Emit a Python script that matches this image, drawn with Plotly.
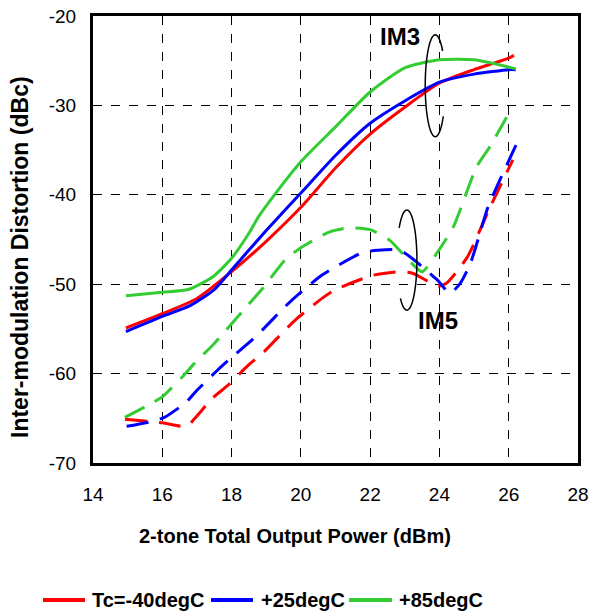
import numpy as np
import plotly.graph_objects as go

# IM3 (solid)
im3_red_x = [14.95, 16.0, 17.0, 18.0, 19.0, 20.0, 21.0, 22.0, 23.0, 24.0, 25.0, 26.0, 26.15]
im3_red_y = [-54.9, -53.3, -51.6, -48.6, -45.2, -41.4, -37.0, -33.2, -30.2, -27.5, -26.0, -24.7, -24.4]
im3_blue_x = [14.95, 16.0, 16.8, 17.5, 18.0, 19.0, 20.0, 21.0, 22.0, 23.0, 24.0, 25.0, 26.0, 26.2]
im3_blue_y = [-55.3, -53.6, -52.4, -50.6, -48.4, -44.0, -39.8, -35.6, -32.0, -29.5, -27.4, -26.5, -26.0, -26.0]
im3_green_x = [14.95, 16.0, 16.75, 17.45, 18.0, 18.5, 18.77, 19.2, 20.0, 21.0, 22.0, 23.0, 24.0, 25.0, 26.2]
im3_green_y = [-51.3, -50.9, -50.6, -49.2, -47.1, -44.3, -42.5, -40.2, -36.3, -32.4, -28.5, -25.8, -24.9, -24.9, -25.9]

# IM5 (dashed)
im5_red_x = [14.92, 16.0, 16.7, 16.94, 17.46, 17.9, 18.47, 18.9, 19.5, 19.9, 20.64, 21.0, 22.08, 22.86, 23.24, 23.96, 24.2, 24.8, 25.46, 26.12]
im5_red_y = [-65.1, -65.5, -65.9, -65.0, -62.7, -61.3, -59.1, -57.7, -55.3, -53.8, -51.5, -50.6, -49.0, -48.6, -48.8, -50.2, -49.9, -47.0, -41.4, -36.1]
im5_blue_x = [14.97, 15.76, 16.06, 16.69, 16.97, 17.6, 17.97, 18.6, 18.97, 19.6, 19.97, 20.6, 21.07, 21.76, 22.2, 22.86, 23.93, 24.3, 24.6, 24.9, 25.4, 25.75, 26.24]
im5_blue_y = [-65.9, -65.3, -64.9, -63.2, -62.0, -59.6, -58.3, -56.2, -54.8, -52.3, -51.0, -49.0, -47.9, -46.5, -46.2, -46.2, -49.5, -51.0, -49.9, -47.6, -41.4, -38.3, -34.2]
im5_green_x = [14.92, 15.7, 16.0, 16.57, 16.94, 17.46, 17.85, 18.48, 18.87, 19.54, 19.97, 20.8, 21.37, 22.0, 22.57, 23.06, 23.5, 23.93, 24.4, 25.07, 25.46, 26.1]
im5_green_y = [-64.9, -63.3, -62.6, -60.4, -58.8, -56.8, -55.1, -52.3, -50.6, -47.3, -46.0, -44.2, -43.7, -43.9, -45.1, -47.1, -48.6, -46.5, -43.6, -36.9, -34.6, -30.2]

legend_names = ["Tc=-40degC", "+25degC", "+85degC"]
colors = ["#ff0000", "#0000ff", "#33cc33"]

x_ticks = [14, 16, 18, 20, 22, 24, 26, 28]
y_ticks = [-20, -30, -40, -50, -60, -70]

FONT = "Arial, 'Liberation Sans', sans-serif"

fig = go.Figure()
im3 = [(im3_red_x, im3_red_y), (im3_blue_x, im3_blue_y), (im3_green_x, im3_green_y)]
im5 = [(im5_red_x, im5_red_y), (im5_blue_x, im5_blue_y), (im5_green_x, im5_green_y)]
for (x, y), name, c in zip(im3, legend_names, colors):
    fig.add_trace(go.Scatter(x=x, y=y, mode="lines", name=name, showlegend=False,
                             line=dict(color=c, width=3, shape="spline", smoothing=0.6)))
for (x, y), name, c in zip(im5, legend_names, colors):
    fig.add_trace(go.Scatter(x=x, y=y, mode="lines", name=name, showlegend=False,
                             line=dict(color=c, width=3, dash="22px,12px", shape="spline", smoothing=0.6)))


def arc_path(cx, cy, rx, ry, a0, a1, n=60):
    t = np.radians(np.linspace(a0, a1, n))
    xs = cx + rx * np.cos(t)
    ys = cy + ry * np.sin(t)
    return "M " + " L ".join(f"{a:.4f},{b:.4f}" for a, b in zip(xs, ys))


fig.add_shape(type="path", xref="x", yref="y",
              path=arc_path(23.88, -27.8, 0.29, 5.7, 43, 323),
              line=dict(color="black", width=1.5))
fig.add_shape(type="path", xref="x", yref="y",
              path=arc_path(23.06, -47.3, 0.29, 5.6, 140, -130),
              line=dict(color="black", width=1.5))

fig.add_annotation(x=22.85, y=-22.3, text="<b>IM3</b>", showarrow=False,
                   xanchor="center", yanchor="middle",
                   font=dict(family=FONT, size=24, color="black"))
fig.add_annotation(x=23.95, y=-54.1, text="<b>IM5</b>", showarrow=False,
                   xanchor="center", yanchor="middle",
                   font=dict(family=FONT, size=24, color="black"))

# Plot-area geometry (pixels) used to place titles/legend in paper coords
L, R, T, B, W, H = 93, 14, 16, 152, 592, 615
PW, PH = W - L - R, H - T - B


def px(xp):
    return (xp - L) / PW


def py(yp):
    return (H - B - yp) / PH


# Axis titles
fig.add_annotation(xref="paper", yref="paper", x=px(295), y=py(536),
                   xanchor="center", yanchor="middle",
                   text="<b>2-tone Total Output Power (dBm)</b>", showarrow=False,
                   font=dict(family=FONT, size=20, color="black"))
fig.add_annotation(xref="paper", yref="paper", x=px(20), y=py(257), textangle=-90,
                   xanchor="center", yanchor="middle",
                   text="<b>Inter-modulation Distortion (dBc)</b>", showarrow=False,
                   font=dict(family=FONT, size=23, color="black"))

# Custom legend
leg_line_x = [(43, 85), (211, 253), (349, 392)]
leg_text_x = [90, 259, 397]
for (x0, x1), tx, name, c in zip(leg_line_x, leg_text_x, legend_names, colors):
    fig.add_shape(type="line", xref="paper", yref="paper", x0=px(x0), x1=px(x1),
                  y0=py(600), y1=py(600), line=dict(color=c, width=4))
    fig.add_annotation(xref="paper", yref="paper", x=px(tx), y=py(600),
                       xanchor="left", yanchor="middle",
                       text=f"<b>{name}</b>", showarrow=False,
                       font=dict(family=FONT, size=20, color="black"))

axis_common = dict(showline=True, linecolor="black", linewidth=3, mirror=True,
                   showgrid=True, gridcolor="black", gridwidth=1, griddash="dash",
                   zeroline=False, ticks="", automargin=False,
                   tickfont=dict(family=FONT, size=19, color="black"))

fig.update_xaxes(range=[14, 28], tickvals=x_ticks, ticktext=[str(v) for v in x_ticks],
                 ticklabelstandoff=12, **axis_common)
fig.update_yaxes(range=[-70, -20], tickvals=y_ticks, ticktext=[str(v) for v in y_ticks],
                 ticklabelstandoff=10, **axis_common)

fig.update_layout(
    width=W, height=H,
    margin=dict(l=L, r=R, t=T, b=B, autoexpand=False),
    plot_bgcolor="white", paper_bgcolor="white",
    showlegend=False,
    font=dict(family=FONT),
)

fig.write_html("out.html")
